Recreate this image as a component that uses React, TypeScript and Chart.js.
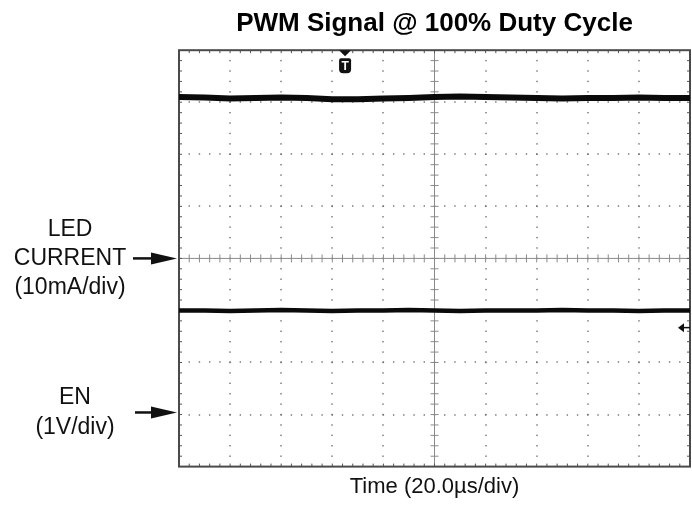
import React, { useEffect, useRef } from "react";
import { Chart, registerables } from "chart.js";

Chart.register(...registerables);

// ---- data ----
const TITLE = "PWM Signal @ 100% Duty Cycle";
const X_LABEL = "Time (20.0µs/div)";
const US_PER_DIV = 20;
const X_DIVS = 10;
const Y_DIVS = 8;
const timeUs = [0, 10, 20, 30, 40, 50, 60, 70, 80, 90, 100, 110, 120, 130, 140, 150, 160, 170, 180, 190, 200];
const ledCurrentMa = [31.0, 30.9, 30.7, 30.8, 30.9, 30.8, 30.6, 30.6, 30.7, 30.8, 31.0, 31.1, 31.0, 30.9, 30.8, 30.7, 30.8, 30.8, 30.9, 30.8, 30.8];
const enVolts = [1.96, 1.96, 1.95, 1.96, 1.97, 1.96, 1.95, 1.96, 1.96, 1.97, 1.96, 1.95, 1.96, 1.96, 1.96, 1.97, 1.96, 1.96, 1.95, 1.96, 1.96];
const LED_MA_PER_DIV = 10;
const EN_V_PER_DIV = 1;
const LED_ZERO_DIV = 4; // reference arrow position (divisions from bottom)
const EN_ZERO_DIV = 1.04;
const TRIGGER_US = 65;
const TRIGGER_LEVEL_V = 1.63;
const ledLabel = ["LED", "CURRENT", "(10mA/div)"];
const enLabel = ["EN", "(1V/div)"];

const FONT = "'Liberation Sans', Arial, Helvetica, sans-serif";

const scopePlugin = {
  id: "scope",
  beforeDatasetsDraw(chart: any) {
    const { ctx, chartArea: a, scales } = chart;
    const x = scales.x;
    const y = scales.y;
    ctx.save();
    // dotted major grid lines
    ctx.fillStyle = "#6e6e6e";
    for (let i = 1; i < X_DIVS; i++) {
      if (i === X_DIVS / 2) continue;
      const px = Math.round(x.getPixelForValue(i * US_PER_DIV));
      for (let k = 1; k < Y_DIVS * 5; k++) {
        const py = y.getPixelForValue(k / 5);
        ctx.fillRect(px - 0.7, py - 0.7, 1.4, 1.4);
      }
    }
    for (let j = 1; j < Y_DIVS; j++) {
      if (j === Y_DIVS / 2) continue;
      const py = Math.round(y.getPixelForValue(j));
      for (let k = 1; k < X_DIVS * 5; k++) {
        const px = x.getPixelForValue((k / 5) * US_PER_DIV);
        ctx.fillRect(px - 0.7, py - 0.7, 1.4, 1.4);
      }
    }
    // center cross lines with ticks
    const cx = x.getPixelForValue((X_DIVS / 2) * US_PER_DIV);
    const cy = y.getPixelForValue(Y_DIVS / 2);
    ctx.strokeStyle = "#8a8a8a";
    ctx.lineWidth = 1;
    ctx.beginPath();
    ctx.moveTo(a.left, cy);
    ctx.lineTo(a.right, cy);
    ctx.moveTo(cx, a.top);
    ctx.lineTo(cx, a.bottom);
    for (let k = 1; k < X_DIVS * 5; k++) {
      const px = x.getPixelForValue((k / 5) * US_PER_DIV);
      ctx.moveTo(px, cy - 4);
      ctx.lineTo(px, cy + 4);
    }
    for (let k = 1; k < Y_DIVS * 5; k++) {
      const py = y.getPixelForValue(k / 5);
      ctx.moveTo(cx - 4, py);
      ctx.lineTo(cx + 4, py);
    }
    ctx.stroke();
    // border ticks
    ctx.strokeStyle = "#555";
    ctx.beginPath();
    for (let k = 1; k < X_DIVS * 5; k++) {
      const px = x.getPixelForValue((k / 5) * US_PER_DIV);
      ctx.moveTo(px, a.top);
      ctx.lineTo(px, a.top + 3);
      ctx.moveTo(px, a.bottom);
      ctx.lineTo(px, a.bottom - 3);
    }
    for (let k = 1; k < Y_DIVS * 5; k++) {
      const py = y.getPixelForValue(k / 5);
      ctx.moveTo(a.left, py);
      ctx.lineTo(a.left + 3, py);
      ctx.moveTo(a.right, py);
      ctx.lineTo(a.right - 3, py);
    }
    ctx.stroke();
    // border
    ctx.strokeStyle = "#4a4a4a";
    ctx.lineWidth = 2;
    ctx.strokeRect(a.left, a.top, a.right - a.left, a.bottom - a.top);
    ctx.restore();
  },
  afterDraw(chart: any) {
    const { ctx, chartArea: a, scales } = chart;
    const x = scales.x;
    const y = scales.y;
    ctx.save();
    ctx.fillStyle = "#111";
    ctx.font = `23px ${FONT}`;
    ctx.textAlign = "center";
    ctx.textBaseline = "middle";
    const ledY = y.getPixelForValue(LED_ZERO_DIV);
    ledLabel.forEach((t, i) => ctx.fillText(t, 70, ledY + (i - 1) * 29));
    const enY = y.getPixelForValue(EN_ZERO_DIV);
    ctx.fillText(enLabel[0], 75, enY - 15);
    ctx.fillText(enLabel[1], 75, enY + 15);
    const arrow = (x0: number, yy: number) => {
      const tip = a.left - 2;
      ctx.strokeStyle = "#111";
      ctx.lineWidth = 2.5;
      ctx.beginPath();
      ctx.moveTo(x0, yy);
      ctx.lineTo(tip - 22, yy);
      ctx.stroke();
      ctx.beginPath();
      ctx.moveTo(tip - 26, yy - 6);
      ctx.lineTo(tip, yy);
      ctx.lineTo(tip - 26, yy + 6);
      ctx.closePath();
      ctx.fill();
    };
    arrow(133, ledY);
    arrow(135, enY);
    // trigger position marker
    const tx = x.getPixelForValue(TRIGGER_US);
    ctx.beginPath();
    ctx.moveTo(tx - 6, a.top);
    ctx.lineTo(tx + 6, a.top);
    ctx.lineTo(tx, a.top + 6);
    ctx.closePath();
    ctx.fill();
    const rx = tx - 6, ry = a.top + 8, rw = 12, rh = 15;
    ctx.beginPath();
    ctx.moveTo(rx + 2, ry);
    ctx.lineTo(rx + rw - 2, ry);
    ctx.quadraticCurveTo(rx + rw, ry, rx + rw, ry + 2);
    ctx.lineTo(rx + rw, ry + rh - 4);
    ctx.quadraticCurveTo(rx + rw, ry + rh, rx + rw - 4, ry + rh);
    ctx.lineTo(rx + 4, ry + rh);
    ctx.quadraticCurveTo(rx, ry + rh, rx, ry + rh - 4);
    ctx.lineTo(rx, ry + 2);
    ctx.quadraticCurveTo(rx, ry, rx + 2, ry);
    ctx.closePath();
    ctx.fill();
    ctx.fillStyle = "#fff";
    ctx.font = `bold 12px ${FONT}`;
    ctx.fillText("T", tx, ry + rh / 2 + 0.5);
    // trigger level marker
    ctx.fillStyle = "#111";
    const ly = y.getPixelForValue(EN_ZERO_DIV + TRIGGER_LEVEL_V / EN_V_PER_DIV);
    ctx.beginPath();
    ctx.moveTo(a.right - 12, ly);
    ctx.lineTo(a.right - 6, ly - 4.5);
    ctx.lineTo(a.right - 6, ly + 4.5);
    ctx.closePath();
    ctx.fill();
    ctx.strokeStyle = "#111";
    ctx.lineWidth = 1.5;
    ctx.beginPath();
    ctx.moveTo(a.right - 7, ly);
    ctx.lineTo(a.right, ly);
    ctx.stroke();
    ctx.restore();
  },
};

export default function App() {
  const ref = useRef<HTMLCanvasElement | null>(null);
  useEffect(() => {
    if (!ref.current) return;
    const ledData = timeUs.map((t, i) => ({ x: t, y: LED_ZERO_DIV + ledCurrentMa[i] / LED_MA_PER_DIV }));
    const enData = timeUs.map((t, i) => ({ x: t, y: EN_ZERO_DIV + enVolts[i] / EN_V_PER_DIV }));
    const chart = new Chart(ref.current, {
      type: "line",
      data: {
        datasets: [
          { label: "LED CURRENT", data: ledData, borderColor: "#0a0a0a", borderWidth: 6, pointRadius: 0, tension: 0 },
          { label: "EN", data: enData, borderColor: "#0a0a0a", borderWidth: 4.5, pointRadius: 0, tension: 0 },
        ],
      },
      options: {
        animation: false,
        responsive: false,
        devicePixelRatio: 1,
        layout: { padding: { left: 179, right: 2, top: 0, bottom: 0 } },
        plugins: {
          legend: { display: false },
          tooltip: { enabled: false },
          title: {
            display: true,
            text: TITLE,
            fullSize: false,
            color: "#000",
            font: { family: FONT, size: 26, weight: "bold" },
            padding: { top: 8, bottom: 11 },
          },
        },
        scales: {
          x: {
            type: "linear",
            min: 0,
            max: X_DIVS * US_PER_DIV,
            grid: { display: false, drawTicks: false },
            border: { display: false },
            ticks: { display: false },
            title: {
              display: true,
              text: X_LABEL,
              color: "#111",
              font: { family: FONT, size: 22 },
              padding: { top: 7, bottom: 8 },
            },
          },
          y: {
            type: "linear",
            min: 0,
            max: Y_DIVS,
            display: false,
          },
        },
      },
      plugins: [scopePlugin],
    });
    return () => chart.destroy();
  }, []);
  return (
    <div style={{ position: "absolute", left: 0, top: 0, width: 692, height: 508, background: "#fff" }}>
      <canvas ref={ref} width={692} height={508} style={{ display: "block" }} />
    </div>
  );
}
